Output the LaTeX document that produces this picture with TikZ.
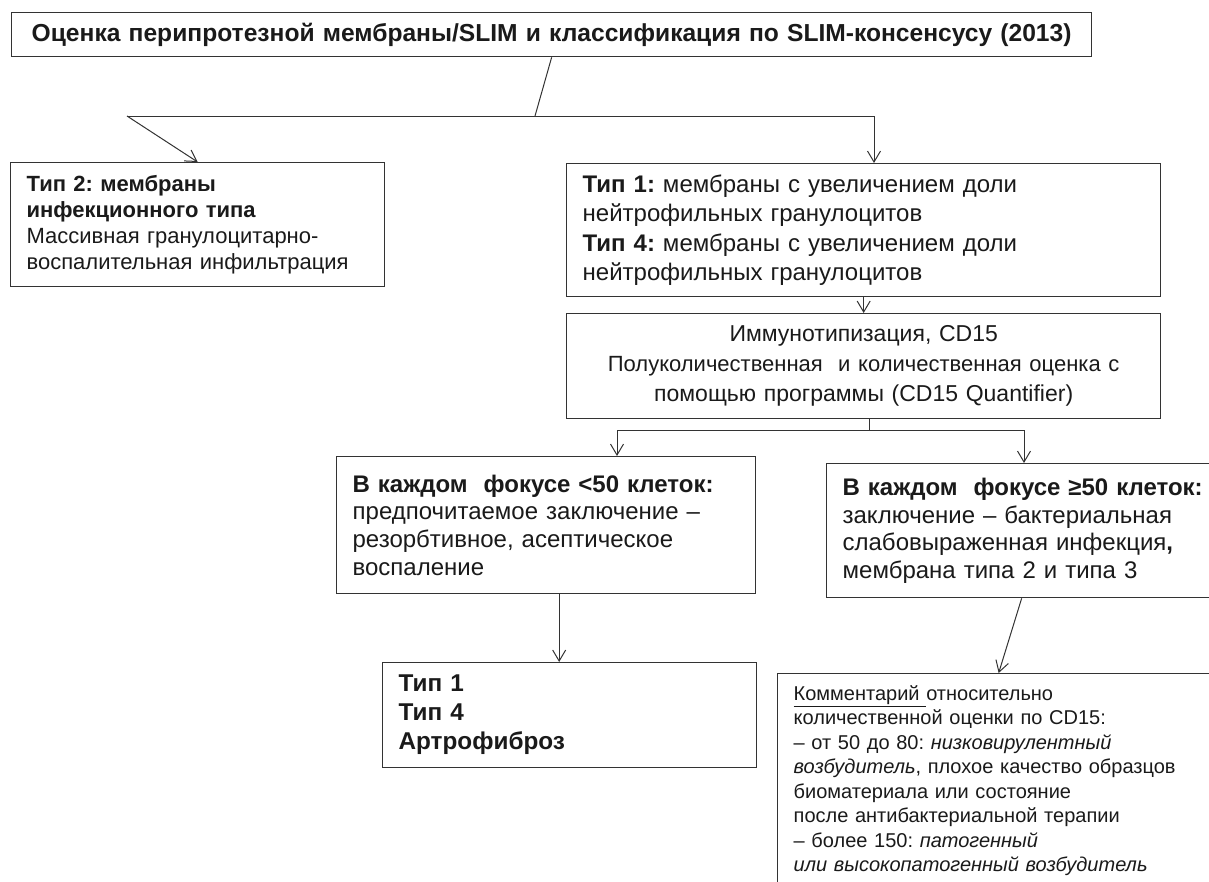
\documentclass[tikz,border=0pt]{standalone}
\usepackage{fontspec}
\setmainfont{Liberation Sans}
\usetikzlibrary{arrows.meta, positioning}
\definecolor{boxline}{HTML}{333333}
\definecolor{ink}{HTML}{1A1A1A}
\frenchspacing

\begin{document}
\begin{tikzpicture}[x=1pt, y=-1pt,
    box/.style={draw=boxline, line width=1.3pt, anchor=north west, inner xsep=16pt, inner ysep=0pt, align=left, text=ink},
    arr/.style={-{Straight Barb[length=11pt, width=13pt]}, line width=1pt, color=boxline},
    link/.style={line width=1pt, color=boxline}
]
\clip (0,0) rectangle (1209,881);
\fill[white] (0,0) rectangle (1209,881);

\node[box, align=center, minimum width=1080, minimum height=44, text width=1048, font=\fontsize{24.6}{28}\selectfont\bfseries] (title) at (11,12)
  {Оценка перипротезной мембраны/SLIM и классификация по SLIM-консенсусу (2013)};

\node[box, minimum width=374, minimum height=124, text width=342, font=\fontsize{22}{26}\selectfont] (typ2) at (10,162)
  {\textbf{Тип 2: мембраны}\\ \textbf{инфекционного типа}\\ Массивная гранулоцитарно-\\ воспалительная инфильтрация};

\node[box, minimum width=594, minimum height=133, text width=562, font=\fontsize{24}{29.5}\selectfont] (typ14) at (566,163)
  {\textbf{Тип 1:} мембраны с увеличением доли\\ нейтрофильных гранулоцитов\\ \textbf{Тип 4:} мембраны с увеличением доли\\ нейтрофильных гранулоцитов};

\node[box, align=center, minimum width=594, minimum height=105, text width=562, font=\fontsize{23}{30}\selectfont] (immuno) at (566,313)
  {Иммунотипизация, CD15\\ {\fontsize{22}{30}\selectfont Полуколичественная\ \ и количественная оценка с}\\ помощью программы (CD15 Quantifier)};

\node[box, minimum width=419, minimum height=137, text width=387, font=\fontsize{24}{27.7}\selectfont] (lo) at (336,456)
  {\textbf{В каждом\ \ фокусе <50 клеток:}\\ предпочитаемое заключение –\\ резорбтивное, асептическое\\ воспаление};

\node[box, minimum width=420, minimum height=134, text width=388, font=\fontsize{24}{27.7}\selectfont] (hi) at (826,463)
  {\textbf{В каждом\ \ фокусе ≥50 клеток:}\\ заключение – бактериальная\\ слабовыраженная инфекция\textbf{,}\\ мембрана типа 2 и типа 3};

\node[box, minimum width=374, minimum height=105, text width=342, font=\fontsize{24.3}{29}\selectfont\bfseries] (res) at (382,662)
  {Тип 1\\ Тип 4\\ Артрофиброз};

\node[box, minimum width=442, minimum height=214, text width=410, font=\fontsize{20}{24.5}\selectfont] (com) at (777,673)
  {\underline{Комментарий }относительно\\ количественной оценки по CD15:\\ – от 50 до 80: \textit{низковирулентный}\\ \textit{возбудитель}, плохое качество образцов\\ биоматериала или состояние\\ после антибактериальной терапии\\ – более 150: \textit{патогенный}\\ \textit{или высокопатогенный возбудитель}};

% branching under the title
\coordinate (split) at (535,116);
\coordinate (lt) at (127,116);
\coordinate (rt) at (874,116);
\draw[link] (title.south) -- (split);
\draw[link] (lt) -- (rt);
\draw[arr] (lt) -- (typ2.north);
\draw[arr] (rt) -- (rt |- typ14.north);
\draw[arr] (typ14.south) -- (immuno.north);

% branching under CD15
\coordinate (fork) at (869,430);
\coordinate (fl) at (617,430);
\coordinate (fr) at (1024,430);
\draw[link] (immuno.south -| fork) -- (fork);
\draw[link] (fl) -- (fr);
\draw[arr] (fl) -- (fl |- lo.north);
\draw[arr] (fr) -- (fr |- hi.north);

\draw[arr] ([xshift=13pt]lo.south) -- ([xshift=13pt]lo.south |- res.north);
\draw[arr] ([xshift=-15pt]hi.south) -- (com.north);
\end{tikzpicture}
\end{document}
